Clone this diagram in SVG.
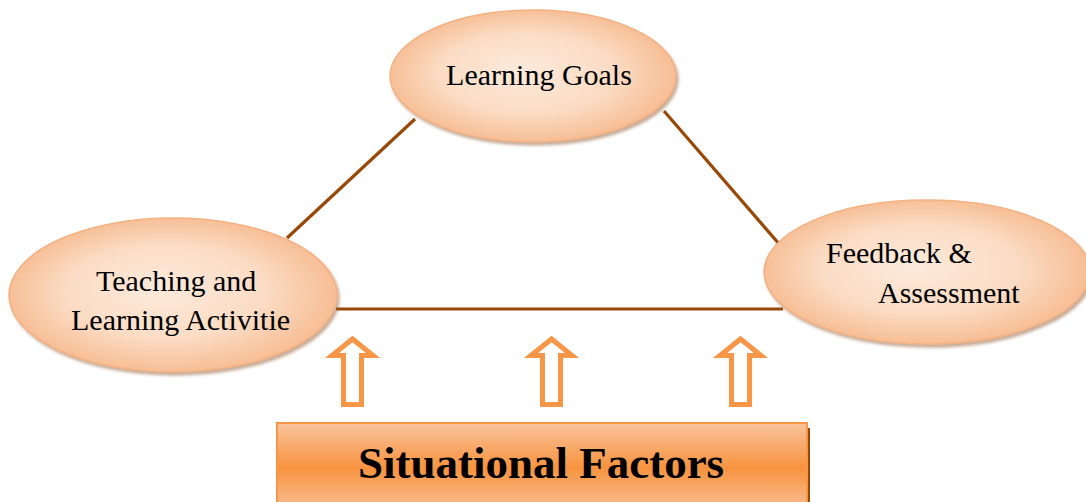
<svg xmlns="http://www.w3.org/2000/svg" width="1086" height="502" viewBox="0 0 1086 502">
<defs>
<radialGradient id="eg" cx="50%" cy="50%" r="55%" fx="45%" fy="45%">
<stop offset="0" stop-color="#fdeadb"/>
<stop offset="0.55" stop-color="#fbdcc4"/>
<stop offset="1" stop-color="#f6b78a"/>
</radialGradient>
<linearGradient id="bg" x1="0" y1="0" x2="0" y2="1">
<stop offset="0" stop-color="#f9c39b"/>
<stop offset="0.5" stop-color="#f7933f"/>
<stop offset="1" stop-color="#f9c39b"/>
</linearGradient>
<filter id="sh" x="-10%" y="-10%" width="125%" height="130%">
<feDropShadow dx="2" dy="3" stdDeviation="1.5" flood-color="#9a6a45" flood-opacity="0.55"/>
</filter>
</defs>
<style>
.node ellipse{fill:url(#eg);stroke:#f4b183;stroke-width:1.5;filter:url(#sh)}
.lbl{font-family:"Liberation Serif","Times New Roman",serif;font-size:30px;fill:#000}
.conn line{stroke:#984807;stroke-width:3.2}
.arrow polygon{fill:#fff;stroke:#f79646;stroke-width:5;stroke-linejoin:miter}
</style>
<g id="connectors" class="conn">
<line x1="287" y1="238" x2="415" y2="119"/>
<line x1="664" y1="111" x2="780" y2="245"/>
<line x1="336" y1="309" x2="783" y2="309"/>
</g>
<g id="node-goals" class="node">
<ellipse cx="533" cy="76" rx="143" ry="66"/>
<text class="lbl" x="539" y="85" text-anchor="middle">Learning Goals</text>
</g>
<g id="node-teaching" class="node">
<ellipse cx="173" cy="295" rx="164" ry="77"/>
<text class="lbl" x="96" y="291">Teaching and</text>
<text class="lbl" x="71" y="330">Learning Activitie</text>
</g>
<g id="node-feedback" class="node">
<ellipse cx="927" cy="272" rx="163" ry="72"/>
<text class="lbl" x="826" y="263">Feedback &amp;</text>
<text class="lbl" x="878" y="303">Assessment</text>
</g>
<g id="arrows" class="arrow">
<polygon points="352.5,339 332,355.5 343.5,355.5 343.5,404.5 361.5,404.5 361.5,355.5 373,355.5"/>
<polygon points="551.5,339 531,355.5 542.5,355.5 542.5,404.5 560.5,404.5 560.5,355.5 572,355.5"/>
<polygon points="740.5,339 720,355.5 731.5,355.5 731.5,404.5 749.5,404.5 749.5,355.5 761,355.5"/>
</g>
<g id="node-situational">
<rect x="807" y="428" width="3" height="80" fill="#984807"/>
<rect x="277" y="423" width="530" height="90" fill="url(#bg)" stroke="#f79646" stroke-width="2"/>
<text x="541" y="478" text-anchor="middle" font-family="'Liberation Serif','Times New Roman',serif" font-weight="bold" font-size="45" fill="#000">Situational Factors</text>
</g>
</svg>
